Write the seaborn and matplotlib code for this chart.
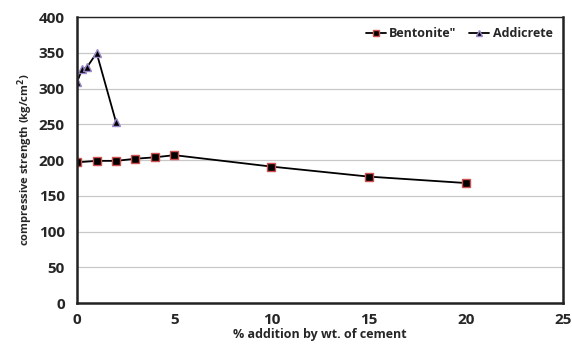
import matplotlib
matplotlib.use("Agg")
import matplotlib.pyplot as plt
import pandas as pd
import seaborn as sns

# Data
bent_x = [0, 1, 2, 3, 4, 5, 10, 15, 20]
bent_y = [197, 199, 199, 202, 204, 207, 191, 177, 168]
addi_x = [0, 0.25, 0.5, 1, 2]
addi_y = [310, 327, 330, 350, 253]
x_ticks = [0, 5, 10, 15, 20, 25]
y_ticks = [0, 50, 100, 150, 200, 250, 300, 350, 400]

df_bent = pd.DataFrame({"x": bent_x, "y": bent_y})
df_addi = pd.DataFrame({"x": addi_x, "y": addi_y})

sns.set_style("white")
plt.rcParams["font.family"] = ["Open Sans", "DejaVu Sans"]
plt.rcParams["font.weight"] = "bold"
plt.rcParams["mathtext.default"] = "bf"

fig = plt.figure(figsize=(5.72, 3.52), dpi=100)
ax = fig.add_axes([0.135, 0.139, 0.849, 0.812])

ax.grid(axis="y", color="#c8c8c8", linewidth=0.9)
ax.set_axisbelow(True)

sns.lineplot(data=df_bent, x="x", y="y", ax=ax, color="black", linewidth=1.3,
             marker="s", markersize=6, markerfacecolor="black",
             markeredgecolor="#d05050", markeredgewidth=1.0,
             label='Bentonite"')
sns.lineplot(data=df_addi, x="x", y="y", ax=ax, color="black", linewidth=1.3,
             marker="^", markersize=6, markerfacecolor="black",
             markeredgecolor="#9a88c8", markeredgewidth=1.0,
             label="Addicrete")

ax.set_xlim(0, 25)
ax.set_ylim(0, 400)
ax.set_xticks(x_ticks)
ax.set_yticks(y_ticks)
ax.tick_params(axis="both", labelsize=11, length=0)
ax.tick_params(axis="y", pad=9)
ax.tick_params(axis="x", pad=7)
for lab in ax.get_xticklabels() + ax.get_yticklabels():
    lab.set_fontweight("bold")

for side in ["left", "bottom", "right", "top"]:
    ax.spines[side].set_visible(True)
    ax.spines[side].set_color("#222222")
    ax.spines[side].set_linewidth(1.8)
ax.spines["top"].set_linewidth(1.0)

ax.set_xlabel("% addition by wt. of cement", fontsize=9, fontweight="bold",
              labelpad=1)
ax.set_ylabel("compressive strength (kg/cm$^2$)", fontsize=8,
              fontweight="bold", labelpad=3)

leg = ax.legend(loc="upper right", ncol=2, frameon=False,
                handlelength=1.6, columnspacing=1.0, handletextpad=0.3,
                borderaxespad=0.4, markerscale=0.75,
                prop={"family": ["Open Sans", "DejaVu Sans"],
                      "weight": "bold", "size": 9})

fig.savefig("out.png", dpi=100)
